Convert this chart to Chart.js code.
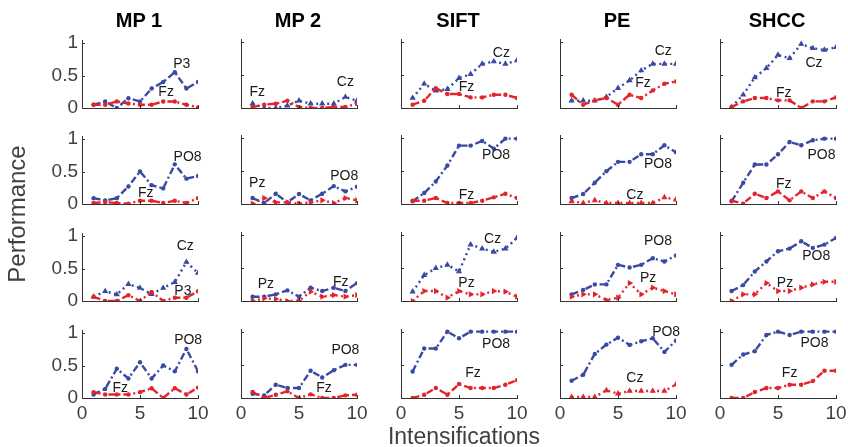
<!DOCTYPE html>
<html>
<head>
<meta charset="utf-8">
<script src="https://cdn.jsdelivr.net/npm/chart.js@4.4.1/dist/chart.umd.min.js"></script>
<style>
  html, body { margin: 0; padding: 0; background: #fff; }
  #fig { position: relative; width: 848px; height: 447px; overflow: hidden;
         font-family: 'Liberation Sans', Arial, sans-serif; }
  #fig canvas { position: absolute; }
  .title { position: absolute; top: 8px; width: 160px; margin-left: -80px; text-align: center;
           font-weight: bold; font-size: 20px; line-height: 24px; color: #000; }
  .axlabel { position: absolute; line-height: 26px; color: #404040; white-space: nowrap; }
</style>
</head>
<body>
<div id="fig"></div>
<script>
// Panel columns (feature extraction methods) and x values
const methods = ['MP 1', 'MP 2', 'SIFT', 'PE', 'SHCC'];
const intensifications = [1, 2, 3, 4, 5, 6, 7, 8, 9, 10];
const xTickValues = [0, 5, 10];
const yTickValues = [0, 0.5, 1];

// MP 1 — one row per subject
const mp1Best = [
  [0.05, 0.10, 0.00, 0.15, 0.10, 0.30, 0.40, 0.55, 0.30, 0.40],
  [0.09, 0.055, 0.09, 0.27, 0.50, 0.29, 0.24, 0.61, 0.39, 0.43],
  [0.065, 0.15, 0.10, 0.26, 0.20, 0.105, 0.20, 0.29, 0.60, 0.43],
  [0.055, 0.14, 0.45, 0.30, 0.55, 0.30, 0.50, 0.41, 0.755, 0.41]
];
const mp1Worst = [
  [0.05, 0.05, 0.10, 0.07, 0.05, 0.05, 0.10, 0.10, 0.05, 0.01],
  [0.015, 0.03, 0.015, 0.005, 0.05, 0.05, 0.015, 0.05, 0.015, 0.09],
  [0.065, 0.00, 0.00, 0.09, 0.00, 0.14, 0.00, 0.05, 0.05, 0.15],
  [0.09, 0.055, 0.055, 0.055, 0.09, 0.15, 0.00, 0.15, 0.055, 0.16]
];
const mp1BestName = ['P3', 'PO8', 'Cz', 'PO8'];
const mp1WorstName = ['Fz', 'Fz', 'P3', 'Fz'];

// MP 2
const mp2Best = [
  [0.065, 0.00, 0.00, 0.035, 0.11, 0.065, 0.065, 0.065, 0.165, 0.11],
  [0.09, 0.015, 0.155, 0.025, 0.15, 0.055, 0.155, 0.27, 0.19, 0.26],
  [0.065, 0.065, 0.10, 0.16, 0.065, 0.20, 0.15, 0.20, 0.15, 0.27],
  [0.065, 0.04, 0.20, 0.15, 0.15, 0.41, 0.31, 0.42, 0.50, 0.50]
];
const mp2Worst = [
  [0.015, 0.05, 0.065, 0.11, 0.015, 0.00, 0.00, 0.015, 0.015, 0.065],
  [0.005, 0.09, 0.025, 0.025, 0.005, 0.025, 0.055, 0.015, 0.09, 0.055],
  [0.00, 0.04, 0.03, 0.00, 0.00, 0.14, 0.065, 0.09, 0.065, 0.09],
  [0.09, 0.00, 0.05, 0.10, 0.00, 0.055, 0.00, 0.00, 0.04, 0.05]
];
const mp2BestName = ['Cz', 'PO8', 'Fz', 'PO8'];
const mp2WorstName = ['Fz', 'Pz', 'Pz', 'Fz'];

// SIFT
const siftBest = [
  [0.15, 0.365, 0.26, 0.285, 0.45, 0.51, 0.665, 0.70, 0.665, 0.715],
  [0.04, 0.165, 0.34, 0.58, 0.88, 0.88, 0.95, 0.835, 0.985, 0.985],
  [0.14, 0.39, 0.495, 0.545, 0.445, 0.85, 0.79, 0.74, 0.79, 0.95],
  [0.40, 0.745, 0.745, 1.00, 0.90, 1.00, 1.00, 1.00, 1.00, 1.00]
];
const siftWorst = [
  [0.05, 0.11, 0.30, 0.21, 0.21, 0.16, 0.16, 0.20, 0.20, 0.15],
  [0.05, 0.05, 0.09, 0.015, 0.015, 0.015, 0.05, 0.10, 0.155, 0.09],
  [0.00, 0.15, 0.15, 0.05, 0.15, 0.10, 0.10, 0.15, 0.14, 0.065],
  [0.00, 0.05, 0.15, 0.05, 0.21, 0.15, 0.15, 0.15, 0.20, 0.27]
];
const siftBestName = ['Cz', 'PO8', 'Cz', 'PO8'];
const siftWorstName = ['Fz', 'Fz', 'Pz', 'Fz'];

// PE
const peBest = [
  [0.11, 0.11, 0.11, 0.165, 0.30, 0.415, 0.565, 0.665, 0.665, 0.665],
  [0.09, 0.15, 0.32, 0.495, 0.635, 0.635, 0.75, 0.75, 0.885, 0.78],
  [0.10, 0.165, 0.25, 0.25, 0.545, 0.505, 0.545, 0.645, 0.595, 0.685],
  [0.26, 0.35, 0.665, 0.805, 0.91, 0.80, 0.855, 0.90, 0.695, 0.865]
];
const peWorst = [
  [0.20, 0.05, 0.115, 0.15, 0.05, 0.20, 0.15, 0.265, 0.365, 0.40],
  [0.04, 0.015, 0.055, 0.015, 0.015, 0.015, 0.015, 0.015, 0.10, 0.065],
  [0.065, 0.10, 0.10, 0.015, 0.05, 0.27, 0.10, 0.20, 0.15, 0.10],
  [0.015, 0.015, 0.015, 0.115, 0.065, 0.105, 0.105, 0.105, 0.105, 0.205]
];
const peBestName = ['Cz', 'PO8', 'PO8', 'PO8'];
const peWorstName = ['Fz', 'Cz', 'Pz', 'Cz'];

// SHCC
const shccBest = [
  [0.015, 0.20, 0.46, 0.60, 0.80, 0.75, 0.965, 0.90, 0.875, 0.915],
  [0.04, 0.32, 0.595, 0.595, 0.75, 0.935, 0.885, 0.96, 0.985, 0.985],
  [0.15, 0.24, 0.445, 0.595, 0.75, 0.79, 0.90, 0.80, 0.85, 0.95],
  [0.50, 0.655, 0.705, 0.95, 1.00, 0.95, 1.00, 1.00, 1.00, 1.00]
];
const shccWorst = [
  [0.015, 0.10, 0.15, 0.15, 0.115, 0.115, 0.00, 0.10, 0.10, 0.16],
  [0.05, 0.005, 0.155, 0.09, 0.19, 0.055, 0.19, 0.09, 0.19, 0.09],
  [0.00, 0.10, 0.10, 0.27, 0.15, 0.15, 0.20, 0.25, 0.29, 0.29],
  [0.00, 0.00, 0.09, 0.15, 0.15, 0.20, 0.20, 0.255, 0.41, 0.41]
];
const shccBestName = ['Cz', 'PO8', 'PO8', 'PO8'];
const shccWorstName = ['Fz', 'Fz', 'Pz', 'Fz'];

// Where each electrode name is written, in (intensification, performance) units
const mp1BestLabelAt   = [[8.6, 0.68], [9.1, 0.72], [8.9, 0.85], [9.15, 0.89]];
const mp1WorstLabelAt  = [[7.25, 0.25], [5.5, 0.17], [8.7, 0.15], [3.3, 0.15]];
const mp2BestLabelAt   = [[9.0, 0.39], [8.9, 0.42], [8.6, 0.29], [9.0, 0.72]];
const mp2WorstLabelAt  = [[1.4, 0.235], [1.4, 0.31], [2.15, 0.25], [7.15, 0.15]];
const siftBestLabelAt  = [[8.65, 0.83], [8.2, 0.73], [7.9, 0.935], [8.2, 0.805]];
const siftWorstLabelAt = [[5.65, 0.32], [5.65, 0.14], [5.65, 0.27], [6.2, 0.37]];
const peBestLabelAt    = [[8.9, 0.855], [8.45, 0.595], [8.45, 0.905], [9.15, 0.99]];
const peWorstLabelAt   = [[7.15, 0.37], [6.45, 0.14], [7.6, 0.34], [6.45, 0.295]];
const shccBestLabelAt  = [[8.1, 0.68], [8.75, 0.74], [8.3, 0.67], [8.15, 0.82]];
const shccWorstLabelAt = [[5.5, 0.225], [5.5, 0.305], [5.6, 0.27], [6.0, 0.37]];

const bestSeries  = [mp1Best, mp2Best, siftBest, peBest, shccBest];
const worstSeries = [mp1Worst, mp2Worst, siftWorst, peWorst, shccWorst];
const bestNames   = [mp1BestName, mp2BestName, siftBestName, peBestName, shccBestName];
const worstNames  = [mp1WorstName, mp2WorstName, siftWorstName, peWorstName, shccWorstName];
const bestLabelAt  = [mp1BestLabelAt, mp2BestLabelAt, siftBestLabelAt, peBestLabelAt, shccBestLabelAt];
const worstLabelAt = [mp1WorstLabelAt, mp2WorstLabelAt, siftWorstLabelAt, peWorstLabelAt, shccWorstLabelAt];

// ---- layout of the 4 x 5 grid of panels ----
const COL_LEFT = [82, 241, 401, 560, 720];   // left edge of each plot area
const ROW_BASE = [108, 204, 301, 398];       // pixel row of performance = 0
const PLOT_W = 116, PLOT_H = 69, Y_TOP = 1.04;
const PAD_L = 46, PAD_R = 16, PAD_T = 14, PAD_B = 34;

const BLUE = '#3a4aa2';
const RED = '#e3242b';
const AXIS = '#333333';
const FONT = "'Liberation Sans', Arial, sans-serif";

// Electrode-specific line and marker style
function styleFor(name, color) {
  const common = {
    borderColor: color, backgroundColor: color,
    pointBackgroundColor: color, pointBorderColor: color,
    borderWidth: 2.4, pointBorderWidth: 0, tension: 0
  };
  if (name === 'Cz') return Object.assign(common, { borderDash: [2, 3.5], pointStyle: 'triangle', pointRadius: 3.6, pointRotation: 0 });
  if (name === 'Pz') return Object.assign(common, { borderDash: [2, 3.5], pointStyle: 'triangle', pointRadius: 3.6, pointRotation: 90 });
  return Object.assign(common, { borderDash: [7, 3, 2, 3], pointStyle: 'circle', pointRadius: 2.2, pointRotation: 0 });
}

// Small tick marks drawn inward from the axis lines
const innerTicks = {
  id: 'innerTicks',
  afterDraw(chart) {
    const { ctx, chartArea: a, scales: { x, y } } = chart;
    ctx.save();
    ctx.strokeStyle = AXIS; ctx.lineWidth = 1;
    ctx.beginPath();
    x.ticks.forEach(t => {
      const px = Math.round(x.getPixelForValue(t.value)) + 0.5;
      ctx.moveTo(px, a.bottom); ctx.lineTo(px, a.bottom - 3);
    });
    y.ticks.forEach(t => {
      const py = Math.round(y.getPixelForValue(t.value)) + 0.5;
      ctx.moveTo(a.left, py); ctx.lineTo(a.left + 3, py);
    });
    ctx.stroke();
    ctx.restore();
  }
};

function electrodeLabels(items) {
  return {
    id: 'electrodeLabels',
    afterDatasetsDraw(chart) {
      const { ctx, scales: { x, y } } = chart;
      ctx.save();
      ctx.font = '14px ' + FONT;
      ctx.fillStyle = '#1a1a1a';
      ctx.textAlign = 'center';
      ctx.textBaseline = 'middle';
      items.forEach(it => ctx.fillText(it.text, x.getPixelForValue(it.at[0]), y.getPixelForValue(it.at[1])));
      ctx.restore();
    }
  };
}

const plainNumber = v => String(v);
const fig = document.getElementById('fig');

for (let c = 0; c < methods.length; c++) {
  for (let r = 0; r < 4; r++) {
    const canvas = document.createElement('canvas');
    const w = PAD_L + PLOT_W + PAD_R, h = PAD_T + PLOT_H + PAD_B;
    canvas.width = w; canvas.height = h;
    canvas.style.width = w + 'px'; canvas.style.height = h + 'px';
    fig.appendChild(canvas);

    const toPoints = vals => intensifications.map((x, i) => ({ x: x, y: vals[i] }));
    const worstName = worstNames[c][r], bestName = bestNames[c][r];

    const chart = new Chart(canvas, {
      type: 'line',
      data: {
        datasets: [
          Object.assign({ label: worstName, data: toPoints(worstSeries[c][r]) }, styleFor(worstName, RED)),
          Object.assign({ label: bestName, data: toPoints(bestSeries[c][r]) }, styleFor(bestName, BLUE))
        ]
      },
      options: {
        responsive: false,
        animation: false,
        devicePixelRatio: 1,
        layout: { padding: { left: 0, right: PAD_R, top: PAD_T, bottom: 0 } },
        plugins: { legend: { display: false }, tooltip: { enabled: false } },
        scales: {
          x: {
            type: 'linear', min: 0, max: 10,
            afterBuildTicks: s => { s.ticks = xTickValues.map(v => ({ value: v })); },
            afterFit: s => { s.height = PAD_B; },
            ticks: { display: r === 3, callback: plainNumber, font: { family: FONT, size: 19 }, color: '#404040', padding: 4, maxRotation: 0 },
            grid: { display: true, drawOnChartArea: false, drawTicks: false, color: AXIS },
            border: { display: true, color: AXIS, width: 1 }
          },
          y: {
            type: 'linear', min: 0, max: Y_TOP,
            afterBuildTicks: s => { s.ticks = yTickValues.map(v => ({ value: v })); },
            afterFit: s => { s.width = PAD_L; },
            ticks: { display: c === 0, callback: plainNumber, font: { family: FONT, size: 19 }, color: '#404040', padding: 4 },
            grid: { display: true, drawOnChartArea: false, drawTicks: false, color: AXIS },
            border: { display: true, color: AXIS, width: 1 }
          }
        }
      },
      plugins: [innerTicks, electrodeLabels([
        { text: bestName, at: bestLabelAt[c][r] },
        { text: worstName, at: worstLabelAt[c][r] }
      ])]
    });

    const a = chart.chartArea;
    canvas.style.left = (COL_LEFT[c] - a.left) + 'px';
    canvas.style.top = (ROW_BASE[r] - a.bottom) + 'px';
  }

  const t = document.createElement('div');
  t.className = 'title';
  t.textContent = methods[c];
  t.style.left = (COL_LEFT[c] + PLOT_W / 2 - 1) + 'px';
  fig.appendChild(t);
}

const yLab = document.createElement('div');
yLab.className = 'axlabel';
yLab.textContent = 'Performance';
yLab.style.fontSize = '24px';
yLab.style.left = '17px'; yLab.style.top = '214px';
yLab.style.transform = 'translate(-50%, -50%) rotate(-90deg)';
fig.appendChild(yLab);

const xLab = document.createElement('div');
xLab.className = 'axlabel';
xLab.textContent = 'Intensifications';
xLab.style.fontSize = '23px';
xLab.style.left = '464px'; xLab.style.top = '436px';
xLab.style.transform = 'translate(-50%, -50%)';
fig.appendChild(xLab);
</script>
</body>
</html>
